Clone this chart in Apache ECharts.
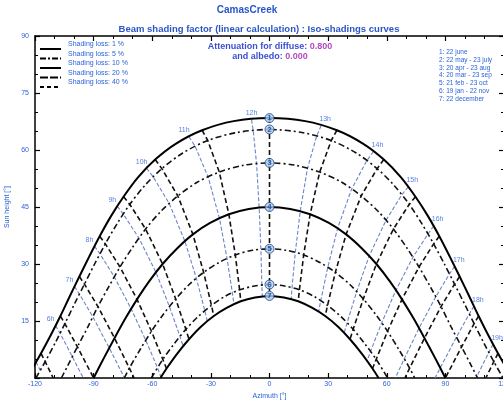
<!DOCTYPE html>
<html>
<head>
<meta charset="utf-8">
<script src="https://cdn.jsdelivr.net/npm/echarts@6/dist/echarts.min.js"></script>
<style>
  html, body { margin: 0; padding: 0; background: #fff; }
  #chart { width: 503px; height: 401px; }
</style>
</head>
<body>
<div id="chart"></div>
<script>
// hour labels (legal hours 5h..19h)
const hourNames = ['5h', '6h', '7h', '8h', '9h', '10h', '11h', '12h', '13h', '14h', '15h', '16h', '17h', '18h', '19h']
const dateNames = ['1', '2', '3', '4', '5', '6', '7']
const dateLegend = ['1: 22 june', '2: 22 may - 23 july', '3: 20 apr - 23 aug', '4: 20 mar - 23 sep',
  '5: 21 feb - 23 oct', '6: 19 jan - 22 nov', '7: 22 december']
const lossLegend = ['Shading loss: 1 %', 'Shading loss: 5 %', 'Shading loss: 10 %', 'Shading loss: 20 %', 'Shading loss: 40 %']

// sunrise / sunset azimuth of each date line
const sunriseAz = [124.2, 119.5, 106.5, 90, 74.3, 60.5, 55.8]

// [azimuth, height] on each full hour, 5h..19h
const onHour = [
  [[-116.9, 6.5], [-107.0, 16.3], [-97.3, 26.7], [-86.9, 37.3], [-74.7, 47.7], [-58.5, 57.5], [-34.5, 65.2], [0, 68.4], [34.5, 65.2], [58.5, 57.5], [74.7, 47.7], [86.9, 37.3], [97.3, 26.7], [107.0, 16.3], [116.9, 6.5]],
  [[-114.8, 4.3], [-104.7, 14.3], [-94.7, 24.7], [-84.0, 35.3], [-71.5, 45.7], [-55.1, 55.1], [-31.6, 62.5], [0, 65.4], [31.6, 62.5], [55.1, 55.1], [71.5, 45.7], [84.0, 35.3], [94.7, 24.7], [104.7, 14.3], [114.8, 4.3]],
  [null, [-98.3, 8.2], [-87.8, 18.8], [-76.5, 29.2], [-63.4, 39.2], [-46.9, 47.9], [-25.7, 54.2], [0, 56.6], [25.7, 54.2], [46.9, 47.9], [63.4, 39.2], [76.5, 29.2], [87.8, 18.8], [98.3, 8.2], null],
  [null, [-90, 0], [-79.3, 10.5], [-67.8, 20.7], [-54.7, 30.0], [-39.2, 37.8], [-20.8, 43.1], [0, 45.0], [20.8, 43.1], [39.2, 37.8], [54.7, 30.0], [67.8, 20.7], [79.3, 10.5], [90, 0], null],
  [null, null, [-71.7, 2.6], [-60.4, 12.3], [-48.0, 20.8], [-33.7, 27.8], [-17.5, 32.4], [0, 34.0], [17.5, 32.4], [33.7, 27.8], [48.0, 20.8], [60.4, 12.3], [71.7, 2.6], null, null],
  [null, null, null, [-54.6, 4.9], [-42.8, 12.8], [-29.7, 19.1], [-15.3, 23.2], [0, 24.6], [15.3, 23.2], [29.7, 19.1], [42.8, 12.8], [54.6, 4.9], null, null, null],
  [null, null, null, [-52.7, 2.5], [-41.2, 10.2], [-28.5, 16.3], [-14.7, 20.2], [0, 21.6], [14.7, 20.2], [28.5, 16.3], [41.2, 10.2], [52.7, 2.5], null, null, null]
]

// [azimuth, height] on each half hour, 4:30..19:30
const halfHour = [
  [[-122.0, 1.9], [-111.9, 11.3], [-102.2, 21.5], [-92.2, 32.0], [-81.1, 42.6], [-67.3, 52.8], [-47.8, 61.7], [-18.3, 67.6], [18.3, 67.6], [47.8, 61.7], [67.3, 52.8], [81.1, 42.6], [92.2, 32.0], [102.2, 21.5], [111.9, 11.3], [122.0, 1.9]],
  [null, [-109.7, 9.2], [-99.8, 19.5], [-89.5, 30.0], [-78.1, 40.5], [-63.9, 50.6], [-44.4, 59.2], [-16.6, 64.6], [16.6, 64.6], [44.4, 59.2], [63.9, 50.6], [78.1, 40.5], [89.5, 30.0], [99.8, 19.5], [109.7, 9.2], null],
  [null, [-103.5, 3.0], [-93.0, 13.4], [-82.3, 24.0], [-70.2, 34.3], [-55.7, 43.8], [-37.0, 51.5], [-13.1, 56.0], [13.1, 56.0], [37.0, 51.5], [55.7, 43.8], [70.2, 34.3], [82.3, 24.0], [93.0, 13.4], [103.5, 3.0], null],
  [null, null, [-84.7, 5.3], [-73.7, 15.7], [-61.5, 25.5], [-47.3, 34.1], [-30.4, 40.8], [-10.6, 44.5], [10.6, 44.5], [30.4, 40.8], [47.3, 34.1], [61.5, 25.5], [73.7, 15.7], [84.7, 5.3], null, null],
  [null, null, null, [-66.2, 7.5], [-54.4, 16.7], [-41.1, 24.6], [-25.8, 30.4], [-8.8, 33.6], [8.8, 33.6], [25.8, 30.4], [41.1, 24.6], [54.4, 16.7], [66.2, 7.5], null, null, null],
  [null, null, null, [-60.0, 0.4], [-48.8, 9.0], [-36.5, 16.2], [-22.7, 21.5], [-7.7, 24.2], [7.7, 24.2], [22.7, 21.5], [36.5, 16.2], [48.8, 9.0], [60.0, 0.4], null, null, null],
  [null, null, null, null, [-47.1, 6.5], [-35.1, 13.5], [-21.7, 18.5], [-7.4, 21.2], [7.4, 21.2], [21.7, 18.5], [35.1, 13.5], [47.1, 6.5], null, null, null, null]
]

// where the full-hour lines meet the horizon
const hourEnds = { '5h': [-110.7, 0], '7h': [-69.3, 0], '17h': [69.3, 0], '19h': [110.7, 0] }

// thin blue hour lines (second half of the year), 5h..19h, from date 1 downwards
const blueLines = [
  [[-119.5, 4.2], [-117.2, 1.9]],
  [[-109.5, 13.8], [-107.2, 11.8], [-100.9, 5.6], [-95.3, 0]],
  [[-99.8, 24.1], [-97.3, 22.1], [-90.4, 16.1], [-82.0, 7.9], [-74.2, 0]],
  [[-89.6, 34.7], [-86.8, 32.7], [-79.4, 26.6], [-70.8, 18.2], [-63.3, 9.9], [-57.3, 2.7], [-55.5, 0.2]],
  [[-77.9, 45.2], [-74.8, 43.1], [-66.8, 36.8], [-58.1, 27.8], [-51.2, 18.8], [-45.8, 10.9], [-44.2, 8.4]],
  [[-62.9, 55.2], [-59.5, 52.9], [-51.3, 45.9], [-43.3, 36.0], [-37.4, 26.2], [-33.1, 17.7], [-31.8, 14.9]],
  [[-41.2, 63.5], [-38.0, 60.9], [-31.4, 52.9], [-25.6, 42.0], [-21.7, 31.4], [-19.0, 22.4], [-18.2, 19.4]],
  [[-9.2, 68.0], [-8.3, 65.0], [-6.6, 56.3], [-5.3, 44.8], [-4.4, 33.8], [-3.9, 24.4], [-3.7, 21.4]],
  [[26.4, 66.4], [24.1, 63.6], [19.4, 55.1], [15.7, 43.8], [13.2, 33.0], [11.5, 23.7], [11.1, 20.7]],
  [[53.2, 59.6], [49.8, 57.2], [42.0, 49.7], [34.8, 39.3], [29.8, 29.1], [26.2, 20.3], [25.1, 17.4]],
  [[71.0, 50.3], [67.7, 48.2], [59.6, 41.5], [51.0, 32.1], [44.6, 22.7], [39.7, 14.5], [38.2, 11.9]],
  [[84.0, 40.0], [81.1, 37.9], [73.4, 31.8], [64.7, 23.1], [57.4, 14.5], [51.7, 7.0], [49.9, 4.5]],
  [[94.8, 29.4], [92.1, 27.4], [85.1, 21.4], [76.5, 13.1], [69.0, 5.1], [64.4, 0]],
  [[104.6, 18.9], [102.3, 16.9], [95.7, 10.8], [87.4, 2.7], [84.7, 0]],
  [[114.4, 8.9], [112.3, 6.8], [106.0, 0.3]]
]

const BLUE = '#2c63d8'
const FONT = 'Liberation Sans, Arial, sans-serif'

// sun path of one date: sunrise, half hours and full hours in time order, sunset
function sunPath (d) {
  const pts = [[-sunriseAz[d], 0]]
  for (let i = 0; i < halfHour[d].length; i++) {
    if (halfHour[d][i]) pts.push(halfHour[d][i])
    if (i < onHour[d].length && onHour[d][i]) pts.push(onHour[d][i])
  }
  pts.push([sunriseAz[d], 0])
  return pts.filter((p, i) => i === 0 || p[0] !== pts[i - 1][0] || p[1] !== pts[i - 1][1])
}

const series = []

// blue hour lines (under everything)
blueLines.forEach((pts, i) => {
  series.push({
    type: 'line', data: pts, symbol: 'none', silent: true, z: 2,
    lineStyle: { color: '#6c84c8', width: 1.1, type: [4, 2] }
  })
})

// black hour lines
hourNames.forEach((h, i) => {
  const pts = onHour.map(row => row[i]).filter(p => p)
  if (hourEnds[h]) pts.push(hourEnds[h])
  series.push({
    type: 'line', data: pts, symbol: 'none', silent: true, z: 3,
    lineStyle: { color: '#111', width: 1.6, type: [5, 3] }
  })
})

// date lines
dateNames.forEach((n, d) => {
  const main = d === 0 || d === 3 || d === 6
  series.push({
    type: 'line', data: sunPath(d), symbol: 'none', silent: true, smooth: 0.3, z: 4,
    lineStyle: main ? { color: '#000', width: 2 } : { color: '#111', width: 1.6, type: [6, 3, 2, 3] }
  })
})

// date markers on the 12h line
series.push({
  type: 'scatter', z: 6, symbol: 'circle', symbolSize: 9,
  data: dateNames.map((n, d) => ({ value: onHour[d][7], name: n })),
  itemStyle: { color: '#a9d2f2', borderColor: '#26407e', borderWidth: 1 },
  label: { show: true, position: 'inside', formatter: p => p.name, fontSize: 8, fontWeight: 'bold', color: '#1b3a8c', fontFamily: FONT }
})

// hour labels above the June line
series.push({
  type: 'scatter', z: 6, symbolSize: 0,
  data: hourNames.map((h, i) => ({ value: blueLines[i][0], name: h })).slice(1),
  label: {
    show: true, position: 'top', distance: 3, fontSize: 7, color: BLUE, fontFamily: FONT,
    formatter: p => p.name
  },
  labelLayout: p => ({ dx: p.dataIndex < 6 ? -5 : (p.dataIndex === 6 ? 0 : 4) })
})

// legend graphics
const graphics = []
const lossDash = ['solid', [6, 2, 2, 2], 'solid', [8, 2], [4, 3]]
lossLegend.forEach((t, i) => {
  const y = 49 + i * 9.5
  graphics.push({
    type: 'line', shape: { x1: 40, y1: y, x2: 61, y2: y },
    style: { stroke: '#000', lineWidth: 2, lineDash: lossDash[i] === 'solid' ? null : lossDash[i] }
  })
  graphics.push({
    type: 'text', x: 68, y: y - 4.5,
    style: { text: t, fill: BLUE, font: '7px ' + FONT, textVerticalAlign: 'middle' }
  })
})
dateLegend.forEach((t, i) => {
  graphics.push({
    type: 'text', x: 439, y: 52 + i * 7.9,
    style: { text: t, fill: BLUE, font: '6.5px ' + FONT, textVerticalAlign: 'middle' }
  })
})
graphics.push(
  { type: 'text', x: 247, y: 10, style: { text: 'CamasCreek', fill: '#2a55c8', font: 'bold 10px ' + FONT, textAlign: 'center', textVerticalAlign: 'middle' } },
  { type: 'text', x: 259, y: 29, style: { text: 'Beam shading factor (linear calculation) : Iso-shadings curves', fill: '#2a55c8', font: 'bold 9.5px ' + FONT, textAlign: 'center', textVerticalAlign: 'middle' } },
  {
    type: 'text', x: 270, y: 47,
    style: {
      text: '{a|Attenuation for diffuse: }{b|0.800}', textAlign: 'center', textVerticalAlign: 'middle',
      rich: { a: { fill: '#3b4fd0', font: 'bold 9px ' + FONT }, b: { fill: '#b24ac0', font: 'bold 9px ' + FONT } }
    }
  },
  {
    type: 'text', x: 270, y: 57,
    style: {
      text: '{a|and albedo: }{b|0.000}', textAlign: 'center', textVerticalAlign: 'middle',
      rich: { a: { fill: '#3b4fd0', font: 'bold 9px ' + FONT }, b: { fill: '#b24ac0', font: 'bold 9px ' + FONT } }
    }
  }
)

const axisCommon = {
  axisLine: { show: true, onZero: false, lineStyle: { color: '#000', width: 1.5 } },
  axisTick: { show: true, inside: true, length: 5, lineStyle: { color: '#000', width: 1.2 } },
  minorTick: { show: true, splitNumber: 3, length: 3, lineStyle: { color: '#000', width: 1 } },
  splitLine: { show: false },
  minorSplitLine: { show: false }
}

const chart = echarts.init(document.getElementById('chart'))
chart.setOption({
  animation: false,
  backgroundColor: '#fff',
  grid: { left: 35, top: 36, width: 469, height: 342, containLabel: false, outerBoundsMode: 'none' },
  xAxis: [
    Object.assign({
      type: 'value', min: -120, max: 120, interval: 30, position: 'bottom',
      name: 'Azimuth [°]', nameLocation: 'middle', nameGap: 15,
      nameTextStyle: { color: BLUE, fontSize: 7, fontFamily: FONT },
      axisLabel: { color: BLUE, fontSize: 7, margin: 3, fontFamily: FONT }
    }, axisCommon),
    Object.assign({ type: 'value', min: -120, max: 120, interval: 30, position: 'top', axisLabel: { show: false } }, axisCommon)
  ],
  yAxis: [
    Object.assign({
      type: 'value', min: 0, max: 90, interval: 15, position: 'left',
      name: 'Sun height [°]', nameLocation: 'middle', nameGap: 18, nameRotate: 90,
      nameTextStyle: { color: BLUE, fontSize: 7, fontFamily: FONT },
      axisLabel: { color: BLUE, fontSize: 7, margin: 6, fontFamily: FONT, formatter: v => (v === 0 ? '' : v) }
    }, axisCommon),
    Object.assign({ type: 'value', min: 0, max: 90, interval: 15, position: 'right', axisLabel: { show: false } }, axisCommon)
  ],
  graphic: graphics,
  series: series
})
</script>
</body>
</html>
